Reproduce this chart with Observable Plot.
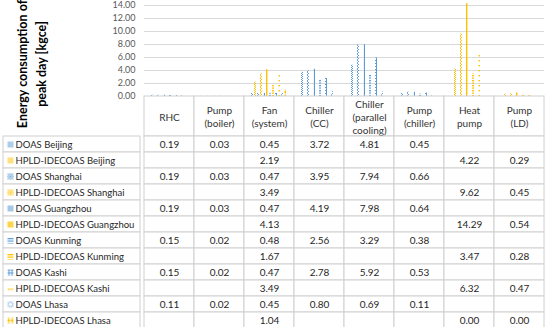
<!DOCTYPE html>
<html>
<head>
<meta charset="utf-8">
<script src="https://cdn.jsdelivr.net/npm/d3@7"></script>
<script src="https://cdn.jsdelivr.net/npm/@observablehq/plot@0.6"></script>
<style>
  body { margin: 0; background: #fff; }
  #wrap { position: relative; width: 550px; height: 327px; overflow: hidden; font-family: Lato, sans-serif; background: #fff; }
  #wrap > div { position: absolute; }
  #title {
    width: 180px; height: 38px; left: -58px; top: 45px;
    transform: rotate(-90deg);
    font: bold 12.5px Lato, sans-serif; line-height: 19px; text-align: center; color: #000;
    white-space: nowrap; z-index: 5;
  }
</style>
</head>
<body>
<svg width="0" height="0" style="position:absolute">
  <defs>
    <pattern id="p0" width="2" height="2" patternUnits="userSpaceOnUse"><rect width="1" height="1" fill="#5B9BD5"/><rect x="1" y="1" width="1" height="1" fill="#5B9BD5"/></pattern>
    <pattern id="p1" width="2" height="2" patternUnits="userSpaceOnUse"><rect width="1" height="1" fill="#FFC000"/><rect x="1" y="1" width="1" height="1" fill="#FFC000"/></pattern>
    <pattern id="p2" width="3" height="3" patternUnits="userSpaceOnUse"><path d="M0,0L3,3M3,0L0,3" stroke="#5B9BD5" stroke-width="0.9"/></pattern>
    <pattern id="p3" width="3" height="3" patternUnits="userSpaceOnUse"><path d="M0,0L3,3M3,0L0,3" stroke="#FFC000" stroke-width="0.9"/></pattern>
    <pattern id="p4" width="2" height="2" patternUnits="userSpaceOnUse"><rect width="1.1" height="2" fill="#5B9BD5"/></pattern>
    <pattern id="p5" width="2" height="2" patternUnits="userSpaceOnUse"><rect width="1.4" height="2" fill="#FFC000"/></pattern>
    <pattern id="p6" width="4" height="2.5" patternUnits="userSpaceOnUse"><rect width="4" height="1.2" fill="#5B9BD5"/></pattern>
    <pattern id="p7" width="4" height="2.5" patternUnits="userSpaceOnUse"><rect width="4" height="1.3" fill="#FFC000"/></pattern>
    <pattern id="p8" width="3" height="3" patternUnits="userSpaceOnUse"><rect width="3" height="1" fill="#5B9BD5"/><rect x="1" width="1" height="3" fill="#5B9BD5"/></pattern>
    <pattern id="p9" width="3" height="5" patternUnits="userSpaceOnUse"><rect x="0.5" width="2" height="1.4" fill="#FFC000"/></pattern>
    <pattern id="p10" width="5" height="5" patternUnits="userSpaceOnUse"><path d="M2.5,0.5L4.5,2.5L2.5,4.5L0.5,2.5Z" fill="none" stroke="#5B9BD5" stroke-width="0.9"/></pattern>
    <pattern id="p11" width="4" height="4" patternUnits="userSpaceOnUse"><path d="M0,0L4,0L2,2ZM0,4L4,4L2,2Z" fill="#FFC000"/></pattern>
  </defs>
</svg>
<div id="wrap">
  <div id="chart" style="left:0;top:0"></div>
  <div id="header" style="left:0;top:96px"></div>
  <div id="labels" style="left:0;top:136px"></div>
  <div id="body" style="left:140px;top:136px"></div>
  <div id="title">Energy consumption of<br>peak day [kgce]</div>
</div>
<script>
// ---- data ----
const categories = ["RHC", "Pump (boiler)", "Fan (system)", "Chiller (CC)", "Chiller (parallel cooling)", "Pump (chiller)", "Heat pump", "Pump (LD)"];
const headerLabels = ["RHC", "Pump\n(boiler)", "Fan\n(system)", "Chiller\n(CC)", "Chiller\n(parallel\ncooling)", "Pump\n(chiller)", "Heat\npump", "Pump\n(LD)"];
const seriesNames = ["DOAS Beijing", "HPLD-IDECOAS Beijing", "DOAS Shanghai", "HPLD-IDECOAS Shanghai", "DOAS Guangzhou", "HPLD-IDECOAS Guangzhou", "DOAS Kunming", "HPLD-IDECOAS Kunming", "DOAS Kashi", "HPLD-IDECOAS Kashi", "DOAS Lhasa", "HPLD-IDECOAS Lhasa"];
const doasBeijing     = [0.19, 0.03, 0.45, 3.72, 4.81, 0.45, null, null];
const hpldBeijing     = [null, null, 2.19, null, null, null, 4.22, 0.29];
const doasShanghai    = [0.19, 0.03, 0.47, 3.95, 7.94, 0.66, null, null];
const hpldShanghai    = [null, null, 3.49, null, null, null, 9.62, 0.45];
const doasGuangzhou   = [0.19, 0.03, 0.47, 4.19, 7.98, 0.64, null, null];
const hpldGuangzhou   = [null, null, 4.13, null, null, null, 14.29, 0.54];
const doasKunming     = [0.15, 0.02, 0.48, 2.56, 3.29, 0.38, null, null];
const hpldKunming     = [null, null, 1.67, null, null, null, 3.47, 0.28];
const doasKashi       = [0.15, 0.02, 0.47, 2.78, 5.92, 0.53, null, null];
const hpldKashi       = [null, null, 3.49, null, null, null, 6.32, 0.47];
const doasLhasa       = [0.11, 0.02, 0.45, 0.80, 0.69, 0.11, null, null];
const hpldLhasa       = [null, null, 1.04, null, null, null, 0.00, 0.00];
const seriesValues = [doasBeijing, hpldBeijing, doasShanghai, hpldShanghai, doasGuangzhou, hpldGuangzhou, doasKunming, hpldKunming, doasKashi, hpldKashi, doasLhasa, hpldLhasa];
const yTicks = [0, 2, 4, 6, 8, 10, 12, 14];

const rows = [];
seriesNames.forEach((s, i) => seriesValues[i].forEach((v, j) => rows.push({series: s, si: i, cat: categories[j], value: v})));
const filled = rows.filter(d => d.value != null);
const headerOf = new Map(categories.map((c, i) => [c, headerLabels[i]]));

const BORDER = "#d0d0d0";
const baseStyle = {fontFamily: "Lato, sans-serif", background: "transparent", overflow: "visible"};

// ---- bar chart ----
const barMarks = seriesNames.map((s, i) =>
  Plot.barY(filled.filter(d => d.si === i), {fx: "cat", x: "series", y: "value", fill: `url(#p${i})`})
);
const chart = Plot.plot({
  width: 550, height: 96,
  marginTop: 5, marginBottom: 0, marginLeft: 140, marginRight: 3,
  style: {...baseStyle, fontSize: "9px", color: "#595959"},
  fx: {domain: categories, padding: 0, axis: null, label: null},
  x: {domain: seriesNames, paddingInner: 0.2, paddingOuter: 0.6, axis: null},
  y: {domain: [0, 14], axis: null},
  marks: [
    Plot.gridY(yTicks, {stroke: "#d9d9d9", strokeOpacity: 1}),
    Plot.axisY(yTicks, {tickSize: 0, tickPadding: 9, tickFormat: d3.format(".2f"), fill: "#595959", label: null}),
    ...barMarks
  ]
});
document.getElementById("chart").append(chart);

// ---- table header ----
const header = Plot.plot({
  width: 550, height: 40,
  marginTop: 0, marginBottom: 0, marginLeft: 140, marginRight: 3,
  style: {...baseStyle, fontSize: "10px", color: "#333"},
  x: {domain: categories, padding: 0, axis: null},
  marks: [
    Plot.cell(categories, {x: d => d, fill: "white", stroke: BORDER}),
    Plot.text(categories, {x: d => d, text: d => headerOf.get(d), lineHeight: 1.3, fontSize: 10, fill: "#333"})
  ]
});
document.getElementById("header").append(header);

// ---- legend / row labels column ----
const labels = Plot.plot({
  width: 140, height: 193,
  marginTop: 0, marginBottom: 1, marginLeft: 3, marginRight: 0,
  style: {...baseStyle, fontSize: "9.5px", color: "#262626"},
  y: {domain: seriesNames, padding: 0, axis: null},
  marks: [
    Plot.cell(seriesNames, {y: d => d, fill: "white", stroke: BORDER}),
    ...seriesNames.map((s, i) => Plot.dot([s], {y: d => d, frameAnchor: "left", dx: 7, symbol: "square", r: 3.4, fill: `url(#p${i})`, stroke: "none"})),
    Plot.text(seriesNames, {y: d => d, text: d => d, frameAnchor: "left", dx: 12, textAnchor: "start", fontSize: 9.5, fill: "#262626"})
  ]
});
document.getElementById("labels").append(labels);

// ---- table body ----
const body = Plot.plot({
  width: 410, height: 193,
  marginTop: 0, marginBottom: 1, marginLeft: 0, marginRight: 3,
  style: {...baseStyle, fontSize: "10px", color: "#262626"},
  x: {domain: categories, padding: 0, axis: null},
  y: {domain: seriesNames, padding: 0, axis: null},
  marks: [
    Plot.cell(rows, {x: "cat", y: "series", fill: "white", stroke: BORDER}),
    Plot.text(filled, {x: "cat", y: "series", text: d => d.value.toFixed(2), fontSize: 10, fill: "#262626"})
  ]
});
document.getElementById("body").append(body);
</script>
</body>
</html>
